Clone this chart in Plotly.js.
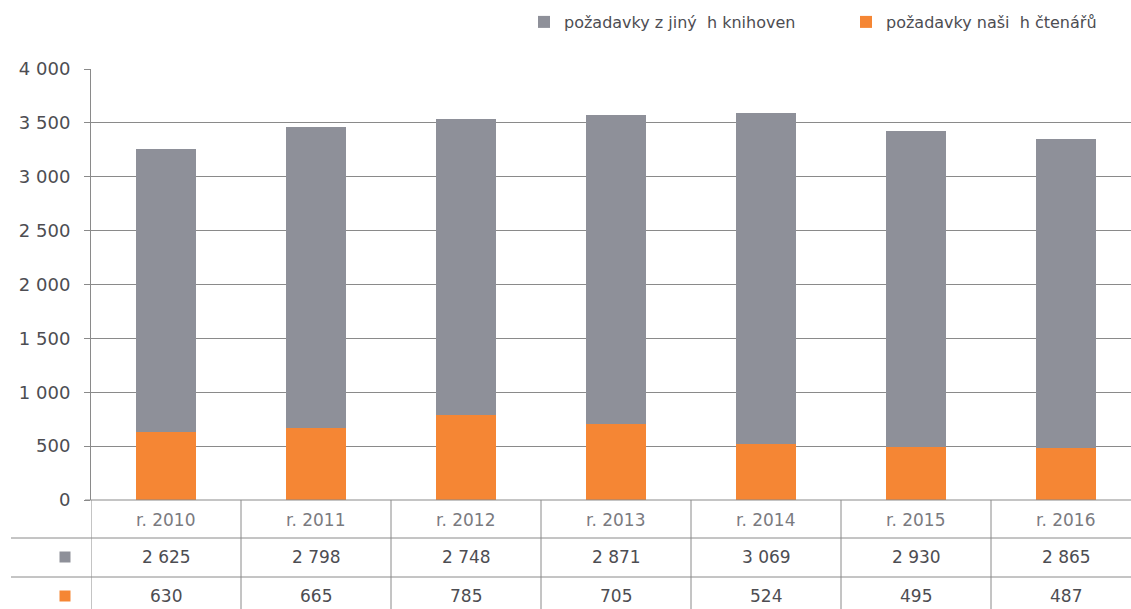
<!DOCTYPE html>
<html><head><meta charset="utf-8">
<script src="https://cdn.plot.ly/plotly-3.0.1.min.js"></script>
<style>html,body{margin:0;padding:0;background:#fff}#c{width:1131px;height:609px}</style>
</head><body><div id="c"></div>
<script>
const years = ["r. 2010","r. 2011","r. 2012","r. 2013","r. 2014","r. 2015","r. 2016"];
const otherLibs = [2625, 2798, 2748, 2871, 3069, 2930, 2865];
const ownReaders = [630, 665, 785, 705, 524, 495, 487];
const seriesNames = ["požadavky z jiný  h knihoven", "požadavky naši  h čtenářů"];
const colGray = "#8e9099", colOrange = "#f58634";
const textCol = "#4d4d52", lineCol = "#8a8a8a";
const FONT = "'DejaVu Sans', Roboto, sans-serif";

const xs = years.map((_, i) => i);
function fmt(v){ return String(v).replace(/\B(?=(\d{3})+(?!\d))/g, " "); }

const traces = [
  {type:"bar", x:xs, y:ownReaders, name:seriesNames[1], marker:{color:colOrange}, width:0.4, showlegend:false, hoverinfo:"y"},
  {type:"bar", x:xs, y:otherLibs, name:seriesNames[0], marker:{color:colGray}, width:0.4, hoverinfo:"y", legend:"legend"},
  {type:"bar", x:[null], y:[null], name:seriesNames[1], marker:{color:colOrange}, showlegend:true, legend:"legend2"}
];

const pyTop = 69, pyBot = 500, H = pyBot - pyTop;
const py = p => (pyBot - p) / H;
const pxLeft = 91, W = 1040;
const px = p => (p - pxLeft) / W;

const shapes = [];
const ann = [];
[538, 577].forEach(yy => shapes.push({type:"line", xref:"paper", yref:"paper", x0:px(11), x1:px(1131), y0:py(yy), y1:py(yy), line:{color:lineCol, width:1}}));
shapes.push({type:"line", xref:"paper", yref:"paper", x0:px(85), x1:px(1131), y0:0, y1:0, line:{color:lineCol, width:1}});
for (let i = 0; i <= years.length; i++) {
  shapes.push({type:"line", xref:"x", yref:"paper", x0:i-0.5, x1:i-0.5, y0:py(609), y1:0, line:{color:lineCol, width:1}});
}
[[557, colGray],[596, colOrange]].forEach(([yy,c]) => shapes.push({type:"rect", xref:"paper", yref:"paper", x0:px(59.5), x1:px(70.5), y0:py(yy+5.5), y1:py(yy-5.5), fillcolor:c, line:{width:0}}));

years.forEach((y, i) => {
  ann.push({xref:"x", yref:"paper", x:i, y:py(520), yanchor:"middle", text:y, showarrow:false, font:{family:FONT, size:17, color:"#7a7a7f"}});
  ann.push({xref:"x", yref:"paper", x:i, y:py(557), yanchor:"middle", text:fmt(otherLibs[i]), showarrow:false, font:{family:FONT, size:17, color:textCol}});
  ann.push({xref:"x", yref:"paper", x:i, y:py(596), yanchor:"middle", text:fmt(ownReaders[i]), showarrow:false, font:{family:FONT, size:17, color:textCol}});
});

const legBase = {orientation:"h", xanchor:"left", y:py(22), yanchor:"middle",
  font:{family:FONT, size:16, color:textCol}, itemwidth:30, bgcolor:"rgba(0,0,0,0)"};

const layout = {
  width:1131, height:609,
  margin:{l:91, r:0, t:69, b:109, pad:0},
  paper_bgcolor:"#fff", plot_bgcolor:"#fff",
  barmode:"stack",
  separators:", ",
  font:{family:FONT, color:textCol},
  showlegend:true,
  legend:Object.assign({}, legBase, {x:px(524)}),
  legend2:Object.assign({}, legBase, {x:px(846)}),
  xaxis:{range:[-0.5, 6.4333], showticklabels:false, showgrid:false, zeroline:false, showline:false, ticks:"", fixedrange:true},
  yaxis:{range:[0,4000], tickvals:[0,500,1000,1500,2000,2500,3000,3500,4000], tickformat:",d",
         showgrid:true, gridcolor:lineCol, gridwidth:1, zeroline:false, showline:true, linecolor:lineCol,
         ticks:"outside", ticklen:6, tickcolor:lineCol, ticklabelstandoff:10,
         tickfont:{family:FONT, size:18, color:textCol}},
  shapes:shapes, annotations:ann
};
Plotly.newPlot("c", traces, layout, {displayModeBar:false, staticPlot:true});
</script></body></html>
